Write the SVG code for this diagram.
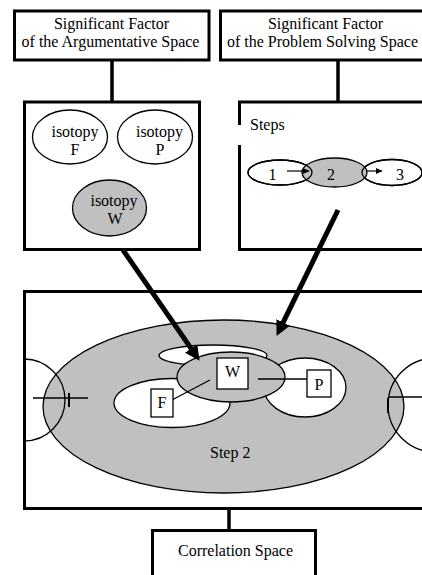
<svg xmlns="http://www.w3.org/2000/svg" width="422" height="575" viewBox="0 0 422 575" font-family="'Liberation Serif', 'DejaVu Serif', 'Times New Roman', serif">
<style>
text{font-family:'Liberation Serif','DejaVu Serif','Times New Roman',serif;font-size:16px;fill:#000}
.box{fill:#fff;stroke:#000;stroke-width:3}
.thin{stroke:#000;stroke-width:1.3}
.w{fill:#fff}
.g{fill:#c0c0c0}
.n{fill:none}
.conn{stroke:#000;stroke-width:3.5;fill:none}
.big{stroke:#000;stroke-width:5;fill:none;marker-end:url(#bigHead)}
.sm{stroke:#000;stroke-width:1.2;fill:none;marker-end:url(#smHead)}
.c{text-anchor:middle}
</style>
<defs>
<marker id="bigHead" markerUnits="userSpaceOnUse" markerWidth="16" markerHeight="16" refX="6" refY="7.5" orient="auto" viewBox="0 0 16 15">
<path d="M0,0 L15,7.5 L0,15 z" fill="#000"/>
</marker>
<marker id="smHead" markerUnits="userSpaceOnUse" markerWidth="7" markerHeight="7" refX="6" refY="3" orient="auto" viewBox="0 0 7 6">
<path d="M0,0 L6.5,3 L0,6 z" fill="#000"/>
</marker>
<clipPath id="bigClip"><rect x="24" y="292" width="400" height="217"/></clipPath>
</defs>

<g id="connectors">
<line class="conn" x1="112" y1="61" x2="112" y2="102"/>
<line class="conn" x1="338" y1="61" x2="338" y2="102"/>
<line class="conn" x1="229" y1="509" x2="229" y2="531"/>
</g>

<g id="argumentative-factor">
<rect class="box" x="14.5" y="11" width="194.5" height="49"/>
<text class="c" x="111.5" y="29">Significant Factor</text>
<text class="c" x="110.5" y="47">of the Argumentative Space</text>
</g>

<g id="problem-factor">
<rect class="box" x="220.5" y="11" width="210" height="49"/>
<text class="c" x="325.5" y="29">Significant Factor</text>
<text class="c" x="322.5" y="47">of the Problem Solving Space</text>
</g>

<g id="isotopies">
<rect class="box" x="24.5" y="102" width="175" height="147.5"/>
<g id="isotopy-F">
<ellipse class="w thin" cx="70" cy="137" rx="37.5" ry="27"/>
<text class="c" x="75" y="137">isotopy</text>
<text class="c" x="75" y="155">F</text>
</g>
<g id="isotopy-P">
<ellipse class="w thin" cx="155" cy="137" rx="37.5" ry="27"/>
<text class="c" x="159.5" y="137">isotopy</text>
<text class="c" x="160" y="155">P</text>
</g>
<g id="isotopy-W">
<ellipse class="g thin" cx="109.5" cy="208" rx="37" ry="28"/>
<text class="c" x="114" y="206">isotopy</text>
<text class="c" x="115" y="224">W</text>
</g>
</g>

<g id="steps">
<rect class="box" x="239.5" y="102" width="200" height="147.5"/>
<rect x="237" y="125" width="4" height="20" fill="#fff"/>
<text x="250" y="130">Steps</text>
<ellipse class="w thin" cx="280" cy="172.5" rx="32" ry="12.5"/>
<ellipse class="w thin" cx="392" cy="172.5" rx="30" ry="13"/>
<ellipse class="g thin" cx="334.5" cy="172.5" rx="32.5" ry="14.5"/>
<ellipse class="n thin" cx="280" cy="172.5" rx="32" ry="12.5"/>
<ellipse class="n thin" cx="392" cy="172.5" rx="30" ry="13"/>
<text class="c" x="272.5" y="180">1</text>
<text class="c" x="331" y="180">2</text>
<text class="c" x="400" y="180">3</text>
<line class="sm" x1="287" y1="171" x2="309" y2="171"/>
<line class="sm" x1="366" y1="171" x2="382" y2="171"/>
</g>

<g id="step2-space">
<rect class="box" x="24.5" y="291.5" width="410" height="217"/>
<g clip-path="url(#bigClip)">
<ellipse class="g thin" cx="223.5" cy="406.5" rx="180.5" ry="86.5"/>
<circle class="n thin" cx="24" cy="400" r="41"/>
<circle class="n thin" cx="435" cy="405" r="47"/>
</g>
<line class="thin" x1="33" y1="398" x2="88" y2="398"/>
<line x1="69" y1="393" x2="69" y2="407" stroke="#000" stroke-width="2"/>
<line class="thin" x1="389" y1="397" x2="422" y2="397"/>
<line x1="388" y1="398" x2="388" y2="413" stroke="#000" stroke-width="2"/>
<ellipse class="w thin" cx="213" cy="355.5" rx="54" ry="10.5"/>
<ellipse class="w thin" cx="172" cy="403" rx="58" ry="24.5"/>
<ellipse class="w thin" cx="305" cy="387.5" rx="41" ry="29.5"/>
<ellipse class="g thin" cx="231" cy="377" rx="54" ry="25"/>
<line class="thin" x1="210" y1="380" x2="170" y2="401"/>
<line class="thin" x1="258" y1="379" x2="307" y2="379"/>
<g id="box-W">
<rect class="w thin" x="217" y="358" width="31" height="31"/>
<text class="c" x="232.5" y="377">W</text>
</g>
<g id="box-P">
<rect class="w thin" x="307" y="370" width="24" height="27"/>
<text class="c" x="319" y="390">P</text>
</g>
<g id="box-F">
<rect class="w thin" x="151" y="389" width="22" height="28"/>
<text class="c" x="162" y="408">F</text>
</g>
<text x="210" y="458">Step 2</text>
</g>

<g id="arrows">
<line class="big" x1="123" y1="250" x2="194.5" y2="353.4"/>
<line class="big" x1="338" y1="210" x2="280.5" y2="327.8"/>
</g>

<g id="correlation-space">
<rect class="box" x="152.5" y="530.5" width="163" height="60"/>
<text class="c" x="235.5" y="556">Correlation Space</text>
</g>
</svg>
